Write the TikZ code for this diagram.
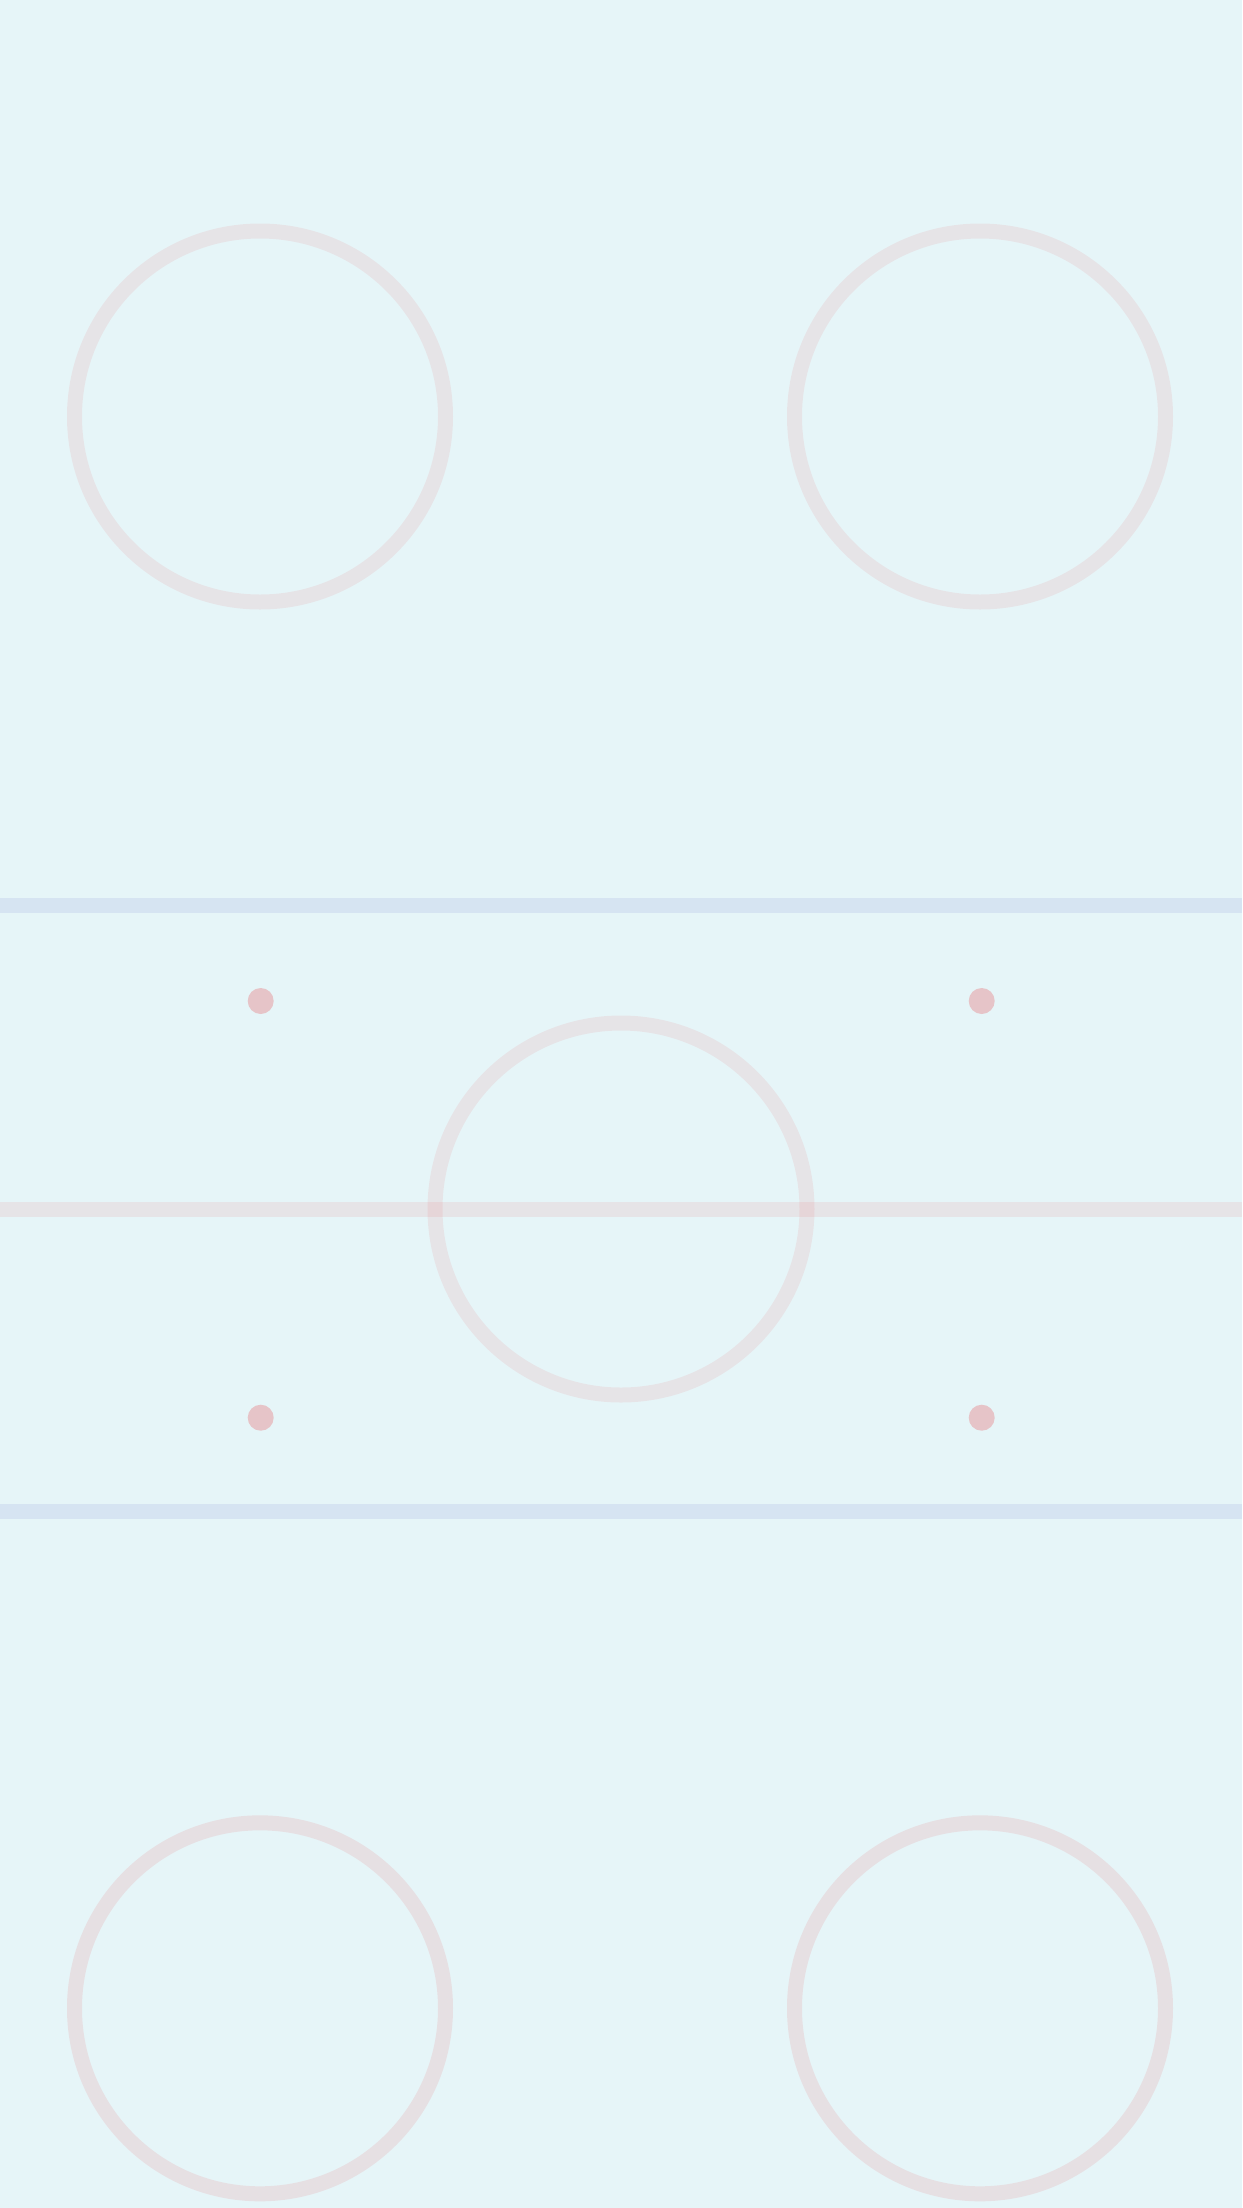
\documentclass[tikz,border=0pt]{standalone}
\definecolor{icebg}{RGB}{230,245,248}
\definecolor{rinkred}{RGB}{230,85,90}
\definecolor{rinkblue}{RGB}{80,85,190}
\tikzset{
  px/.style={x=0.02cm,y=-0.02cm},
  faceoff/.style={draw=rinkred,draw opacity=0.1,line width=0.3cm},
  faceoffb/.style={draw=rinkred,draw opacity=0.13,line width=0.3cm},
  redline/.style={draw=rinkred,draw opacity=0.1,line width=0.3cm},
  blueline/.style={draw=rinkblue,draw opacity=0.1,line width=0.3cm},
  spot/.style={fill=rinkred,fill opacity=0.3}
}
\begin{document}
\begin{tikzpicture}[px]
  \fill[icebg] (0,0) rectangle (1242,2208);
  \useasboundingbox (0,0) rectangle (1242,2208);
  % blue lines
  \draw[blueline] (0,905) -- (1242,905);
  \draw[blueline] (0,1511) -- (1242,1511);
  % centre red line
  \draw[redline] (0,1209) -- (1242,1209);
  % circles
  \draw[faceoff] (260,416.5) circle[radius=185.5];
  \draw[faceoff] (980,416.5) circle[radius=185.5];
  \draw[faceoff] (621,1209) circle[radius=186];
  \draw[faceoffb] (260,2008.3) circle[radius=185.5];
  \draw[faceoffb] (980,2008.3) circle[radius=185.5];
  % neutral-zone spots
  \fill[spot] (260.7,1001) circle[radius=13];
  \fill[spot] (981.7,1001) circle[radius=13];
  \fill[spot] (260.7,1417.7) circle[radius=13];
  \fill[spot] (981.7,1417.7) circle[radius=13];
\end{tikzpicture}
\end{document}
